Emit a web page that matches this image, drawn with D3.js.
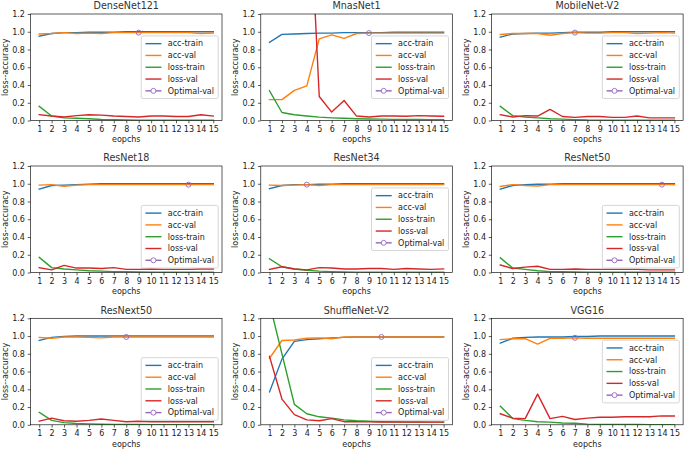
<!DOCTYPE html>
<html>
<head>
<meta charset="utf-8">
<script src="https://cdn.jsdelivr.net/npm/d3@7"></script>
<style>
  html, body { margin: 0; padding: 0; background: #fff; }
  svg { display: block; font-family: "DejaVu Sans", sans-serif; }
  text { fill: #222; font-weight: normal; }
  text.title { fill: #333; }
</style>
</head>
<body>
<svg id="chart" width="685" height="451"></svg>
<script>
// ---------------- data ----------------
const epochs = [1,2,3,4,5,6,7,8,9,10,11,12,13,14,15];
const yTicks = [0, 0.2, 0.4, 0.6, 0.8, 1.0, 1.2];
const models = ["DenseNet121","MnasNet1","MobileNet-V2","ResNet18","ResNet34","ResNet50","ResNext50","ShuffleNet-V2","VGG16"];
const seriesNames = ["acc-train","acc-val","loss-train","loss-val","Optimal-val"];

const accTrain = [
  [0.95,0.98,0.99,0.99,0.995,0.995,0.995,1.0,1.0,1.0,1.0,1.0,1.0,1.0,1.0],
  [0.88,0.97,0.975,0.98,0.985,0.985,0.99,0.99,0.99,0.99,0.995,0.995,0.995,0.995,0.995],
  [0.94,0.975,0.98,0.985,0.985,0.99,0.995,0.995,0.995,1.0,1.0,1.0,1.0,1.0,1.0],
  [0.94,0.98,0.985,0.99,0.995,1.0,1.0,1.0,1.0,1.0,1.0,1.0,1.0,1.0,1.0],
  [0.945,0.98,0.99,0.99,0.995,0.995,1.0,1.0,1.0,1.0,1.0,1.0,1.0,1.0,1.0],
  [0.94,0.98,0.99,0.995,0.995,1.0,1.0,1.0,1.0,1.0,1.0,1.0,1.0,1.0,1.0],
  [0.95,0.985,0.995,1.0,1.0,1.0,1.0,1.0,1.0,1.0,1.0,1.0,1.0,1.0,1.0],
  [0.37,0.74,0.94,0.96,0.97,0.98,0.985,0.99,0.99,0.99,0.99,0.99,0.99,0.99,0.99],
  [0.92,0.975,0.985,0.99,0.99,0.99,0.995,0.995,1.0,1.0,1.0,1.0,1.0,1.0,1.0]
];
const accVal = [
  [0.975,0.98,0.99,0.98,0.985,0.98,0.99,0.99,0.99,0.99,0.99,0.99,0.99,0.98,0.985],
  [0.235,0.235,0.34,0.39,0.92,0.965,0.925,0.98,0.985,0.985,0.985,0.985,0.985,0.985,0.985],
  [0.97,0.98,0.98,0.98,0.96,0.98,0.99,0.985,0.985,0.99,0.99,0.98,0.985,0.99,0.985],
  [0.985,0.99,0.97,0.985,0.99,0.99,0.99,0.99,0.99,0.99,0.99,0.99,0.99,0.99,0.99],
  [0.985,0.98,0.985,0.99,0.98,0.99,0.99,0.99,0.99,0.99,0.99,0.99,0.99,0.99,0.99],
  [0.97,0.99,0.98,0.975,0.99,0.99,0.99,0.99,0.99,0.99,0.99,0.99,0.99,0.99,0.99],
  [0.985,0.975,0.99,0.99,0.985,0.98,0.99,0.99,0.99,0.99,0.99,0.99,0.99,0.99,0.99],
  [0.75,0.95,0.955,0.975,0.98,0.97,0.99,0.99,0.99,0.99,0.99,0.99,0.99,0.99,0.99],
  [0.96,0.97,0.97,0.91,0.975,0.975,0.98,0.975,0.975,0.975,0.975,0.975,0.975,0.975,0.975]
];
const lossTrain = [
  [0.16,0.05,0.03,0.025,0.02,0.012,0.008,0.005,0.004,0.003,0.003,0.002,0.002,0.002,0.002],
  [0.335,0.09,0.065,0.05,0.038,0.03,0.025,0.02,0.017,0.015,0.013,0.012,0.011,0.01,0.01],
  [0.16,0.055,0.04,0.03,0.02,0.015,0.01,0.005,0.004,0.003,0.003,0.002,0.002,0.002,0.002],
  [0.17,0.055,0.04,0.03,0.02,0.015,0.01,0.008,0.005,0.004,0.003,0.003,0.002,0.002,0.002],
  [0.155,0.065,0.04,0.025,0.015,0.01,0.006,0.004,0.003,0.003,0.002,0.002,0.002,0.002,0.002],
  [0.165,0.05,0.035,0.02,0.01,0.008,0.005,0.004,0.003,0.003,0.002,0.002,0.002,0.002,0.002],
  [0.14,0.05,0.025,0.015,0.01,0.006,0.004,0.003,0.003,0.002,0.002,0.002,0.002,0.002,0.002],
  [1.37,0.80,0.23,0.125,0.09,0.075,0.055,0.045,0.04,0.035,0.033,0.032,0.031,0.03,0.03],
  [0.21,0.07,0.05,0.035,0.03,0.02,0.018,0.008,0.005,0.004,0.003,0.003,0.002,0.002,0.002]
];
const lossVal = [
  [0.065,0.05,0.04,0.055,0.065,0.06,0.05,0.045,0.04,0.05,0.05,0.045,0.045,0.065,0.05],
  [5.2,4.6,3.9,3.15,0.27,0.095,0.225,0.05,0.04,0.05,0.05,0.048,0.055,0.05,0.048],
  [0.065,0.04,0.055,0.05,0.125,0.045,0.035,0.045,0.045,0.035,0.035,0.05,0.03,0.03,0.03],
  [0.055,0.03,0.08,0.05,0.05,0.045,0.055,0.035,0.035,0.04,0.035,0.035,0.035,0.04,0.04],
  [0.035,0.065,0.04,0.03,0.055,0.05,0.04,0.04,0.045,0.045,0.035,0.045,0.04,0.035,0.04],
  [0.085,0.045,0.06,0.07,0.035,0.035,0.04,0.035,0.035,0.035,0.035,0.035,0.03,0.03,0.03],
  [0.04,0.075,0.045,0.04,0.05,0.065,0.05,0.035,0.04,0.035,0.035,0.035,0.035,0.035,0.035],
  [0.77,0.29,0.115,0.055,0.045,0.07,0.035,0.035,0.033,0.032,0.031,0.03,0.03,0.03,0.03],
  [0.125,0.075,0.07,0.345,0.07,0.095,0.06,0.075,0.085,0.085,0.09,0.09,0.09,0.1,0.1]
];
const optimalEpoch = [9, 9, 7, 13, 4, 14, 8, 10, 7];
const optimalVal   = [0.99, 0.985, 0.99, 0.99, 0.99, 0.99, 0.99, 0.99, 0.98];
const legendLoc    = ["center right","center right","center right","lower right","center right","lower right","lower right","lower right","center right"];

// ---------------- layout / style ----------------
const colors = ["#1f77b4", "#ff7f0e", "#2ca02c", "#d62728", "#9467bd"];
const FONT = 8, TITLE_FONT = 9.6;
const axW = 191.5, axH = 106.5;
const colLeft = [30.5, 260.8, 491.6];
const rowTop = [14, 166, 318.3];
const lw = 1.4;

const svg = d3.select("#chart");

models.forEach((name, i) => {
  const left = colLeft[i % 3], top = rowTop[Math.floor(i / 3)];
  const x = d3.scaleLinear().domain([1 - 0.7, 15 + 0.7]).range([left, left + axW]);
  const y = d3.scaleLinear().domain([0, 1.2]).range([top + axH, top]);
  const g = svg.append("g");

  const clipId = "clip" + i;
  svg.append("clipPath").attr("id", clipId)
    .append("rect").attr("x", left).attr("y", top).attr("width", axW).attr("height", axH);

  // axes
  const xa = g.append("g").attr("transform", `translate(0,${top + axH})`)
    .call(d3.axisBottom(x).tickValues(epochs).tickFormat(d3.format("d")).tickSize(2.8).tickPadding(2.8));
  const ya = g.append("g").attr("transform", `translate(${left},0)`)
    .call(d3.axisLeft(y).tickValues(yTicks).tickFormat(d3.format(".1f")).tickSize(2.8).tickPadding(2.8));
  [xa, ya].forEach(a => {
    a.select(".domain").remove();
    a.selectAll("text").attr("font-size", FONT).attr("font-family", "DejaVu Sans").attr("fill", "#222");
    a.selectAll("line").attr("stroke", "#000").attr("stroke-width", 0.64);
  });

  // series
  const series = [accTrain[i], accVal[i], lossTrain[i], lossVal[i]];
  const line = d3.line().x((d, k) => x(epochs[k])).y(d => y(d));
  const pg = g.append("g").attr("clip-path", `url(#${clipId})`);
  series.forEach((s, k) => {
    pg.append("path").datum(s).attr("d", line)
      .attr("fill", "none").attr("stroke", colors[k]).attr("stroke-width", lw)
      .attr("stroke-linejoin", "round").attr("stroke-linecap", "square");
  });
  pg.append("circle").attr("cx", x(optimalEpoch[i])).attr("cy", y(optimalVal[i])).attr("r", 2.5)
    .attr("fill", "none").attr("stroke", colors[4]).attr("stroke-width", 0.9);

  // frame
  g.append("rect").attr("x", left).attr("y", top).attr("width", axW).attr("height", axH)
    .attr("fill", "none").attr("stroke", "#000").attr("stroke-width", 0.64);

  // title & labels
  g.append("text").attr("class", "title").attr("x", left + axW / 2).attr("y", top - 4.8).attr("text-anchor", "middle")
    .attr("font-size", TITLE_FONT).text(name);
  g.append("text").attr("x", left + axW / 2).attr("y", top + axH + 21.7).attr("text-anchor", "middle")
    .attr("font-size", FONT).text("eopchs");
  g.append("text").attr("transform", `translate(${left - 22.5},${top + axH / 2}) rotate(-90)`)
    .attr("text-anchor", "middle").attr("font-size", FONT).text("loss--accuracy");

  // legend
  const lg = g.append("g");
  const pitch = 11.8, padTop = 7.7, hl = 16, htp = 6.4, bp = 3.2;
  const tmp = lg.append("text").attr("font-size", FONT).text("Optimal-val");
  const tw = tmp.node().getComputedTextLength();
  tmp.remove();
  const boxW = bp * 2 + hl + htp + tw + 2;
  const boxH = 4 * pitch + 2 * padTop;
  const bx = left + axW - 3.8 - boxW;
  const by = legendLoc[i] === "lower right" ? top + axH - 4.5 - boxH : top + (axH - boxH) / 2;
  lg.append("rect").attr("x", bx).attr("y", by).attr("width", boxW).attr("height", boxH)
    .attr("rx", 1.6).attr("fill", "#fff").attr("fill-opacity", 0.8)
    .attr("stroke", "#cccccc").attr("stroke-width", 0.8);
  seriesNames.forEach((lab, k) => {
    const cy = by + padTop + k * pitch;
    const x0 = bx + bp + 1;
    lg.append("line").attr("x1", x0).attr("x2", x0 + hl).attr("y1", cy).attr("y2", cy)
      .attr("stroke", colors[k]).attr("stroke-width", lw);
    if (k === 4) {
      lg.append("circle").attr("cx", x0 + hl / 2).attr("cy", cy).attr("r", 2.5)
        .attr("fill", "#fff").attr("stroke", colors[k]).attr("stroke-width", 0.9);
    }
    lg.append("text").attr("x", x0 + hl + htp).attr("y", cy).attr("dy", "0.35em")
      .attr("font-size", FONT).text(lab);
  });
});
</script>
</body>
</html>
